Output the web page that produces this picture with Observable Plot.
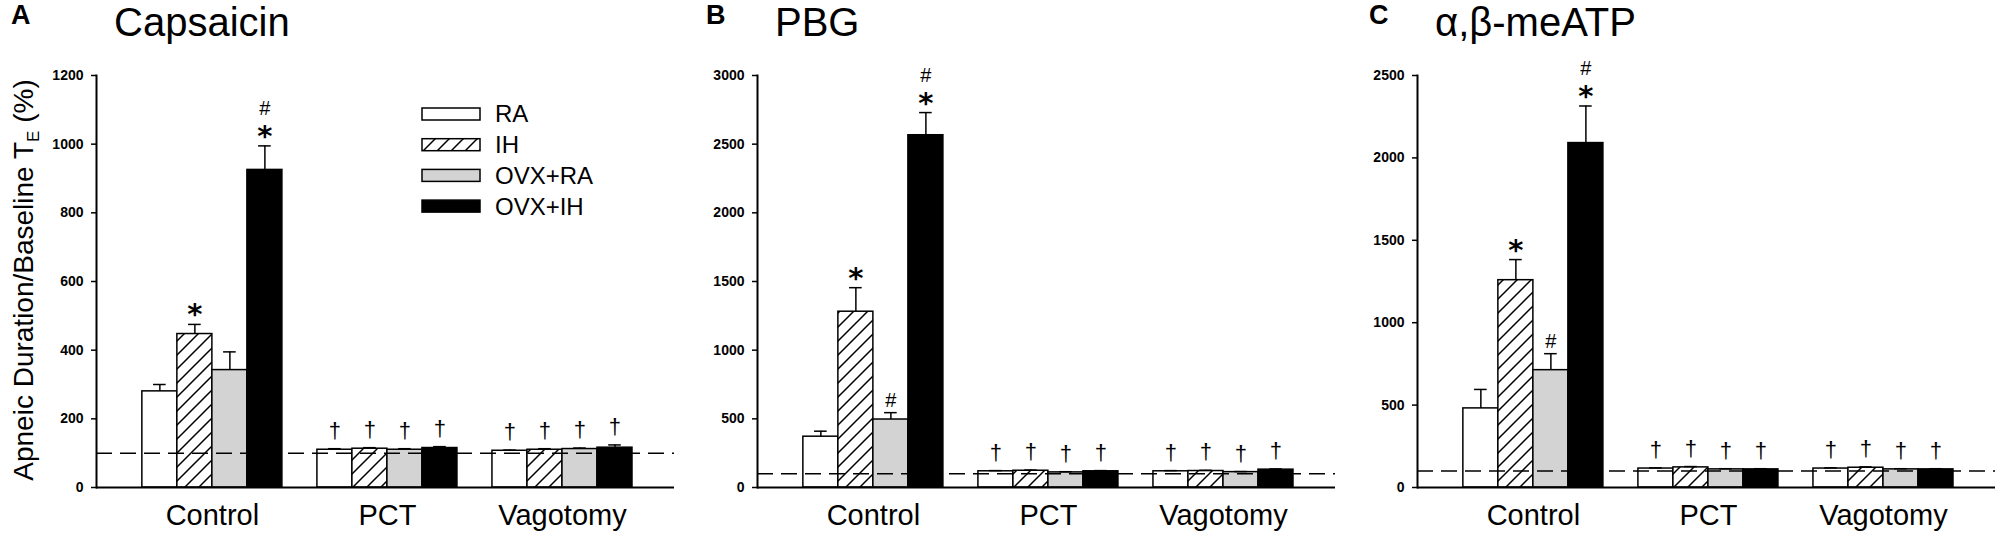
<!DOCTYPE html>
<html><head><meta charset="utf-8">
<script src="https://cdn.jsdelivr.net/npm/d3@7"></script>
<script src="https://cdn.jsdelivr.net/npm/@observablehq/plot@0.6"></script>
<style>
body{margin:0;background:#fff;width:2001px;height:538px;overflow:hidden;font-family:"Liberation Sans",Arial,sans-serif;}
#wrap{position:relative;width:2001px;height:538px;}
.panel{position:absolute;top:0;width:680px;height:538px;}
.letter{position:absolute;font-weight:bold;font-size:27px;line-height:1;top:2px;}
.title{position:absolute;font-size:40px;line-height:1;top:2px;white-space:nowrap;}
g[aria-label="y-axis tick label"] text{font-weight:bold;}
</style></head><body>
<svg width="0" height="0" style="position:absolute"><defs>
<pattern id="hatch" patternUnits="userSpaceOnUse" width="14" height="14">
<rect width="14" height="14" fill="white"/>
<path d="M-2,2 L2,-2 M0,14 L14,0 M12,16 L16,12" stroke="black" stroke-width="1.5"/>
</pattern></defs></svg>
<div id="wrap"></div>
<script>
const groups = ["Control", "PCT", "Vagotomy"];
const series = ["RA", "IH", "OVX+RA", "OVX+IH"];
const seriesFills = ["white", "url(#hatch)", "#d3d3d3", "black"];
const baselinePercent = 100;

const capsaicinMean = [280, 447, 342, 925, 110, 113, 110, 115, 107, 110, 112, 116];
const capsaicinSem  = [20, 28, 53, 70, 3, 3, 3, 4, 2, 3, 3, 8];
const capsaicinSig  = ["", "*", "", "*#", "†", "†", "†", "†", "†", "†", "†", "†"];
const capsaicinTicks = [0, 200, 400, 600, 800, 1000, 1200];

const pbgMean = [370, 1280, 495, 2565, 118, 122, 110, 118, 118, 120, 112, 130];
const pbgSem  = [40, 175, 50, 165, 5, 5, 5, 5, 5, 5, 4, 5];
const pbgSig  = ["", "*", "#", "*#", "†", "†", "†", "†", "†", "†", "†", "†"];
const pbgTicks = [0, 500, 1000, 1500, 2000, 2500, 3000];

const atpMean = [480, 1258, 712, 2090, 115, 122, 110, 110, 115, 120, 110, 110];
const atpSem  = [115, 125, 100, 225, 4, 5, 4, 4, 4, 5, 4, 4];
const atpSig  = ["", "*", "#", "*#", "†", "†", "†", "†", "†", "†", "†", "†"];
const atpTicks = [0, 500, 1000, 1500, 2000, 2500];

const panels = [
  {letter: "A", title: "Capsaicin", mean: capsaicinMean, sem: capsaicinSem, sig: capsaicinSig, ticks: capsaicinTicks, left: 0, letterX: 11, yLabel: true, legend: true},
  {letter: "B", title: "PBG", mean: pbgMean, sem: pbgSem, sig: pbgSig, ticks: pbgTicks, left: 661, letterX: 45, yLabel: false, legend: false},
  {letter: "C", title: "α,β-meATP", mean: atpMean, sem: atpSem, sig: atpSig, ticks: atpTicks, left: 1321, letterX: 48, yLabel: false, legend: false}
];

const wrap = d3.select("#wrap");
const FONT = "Liberation Sans, Arial, sans-serif";
const STAR_FONT = "DejaVu Sans, sans-serif";

for (const p of panels) {
  const rows = [];
  groups.forEach((g, gi) => series.forEach((s, si) => {
    const k = gi * series.length + si;
    const x1 = gi * 5 + si;
    rows.push({group: g, series: s, x1, x2: x1 + 1, xc: x1 + 0.5, mean: p.mean[k], sem: p.sem[k], top: p.mean[k] + p.sem[k], sig: p.sig[k]});
  }));
  const svg = Plot.plot({
    width: 680, height: 538,
    marginLeft: 96, marginRight: 6, marginTop: 75, marginBottom: 51,
    style: {fontFamily: FONT, background: "transparent", overflow: "visible", color: "black"},
    x: {domain: [-1.31, 15.2]},
    y: {domain: [0, p.ticks[p.ticks.length - 1]]},
    color: {type: "ordinal", domain: series, range: seriesFills},
    marks: [
      Plot.rectY(rows, {x1: "x1", x2: "x2", y1: 0, y2: "mean", fill: "series", stroke: "black", strokeWidth: 1.5}),
      Plot.ruleX(rows, {x: "xc", y1: "mean", y2: "top", stroke: "black", strokeWidth: 1.5}),
      Plot.ruleY(rows, {y: "top", x1: d => d.xc - 0.18, x2: d => d.xc + 0.18, stroke: "black", strokeWidth: 1.5}),
      Plot.ruleY([baselinePercent], {stroke: "black", strokeWidth: 1.5, strokeDasharray: "16,8"}),
      Plot.ruleY([0], {stroke: "black", strokeWidth: 2}),
      Plot.frame({anchor: "left", stroke: "black", strokeWidth: 2}),
      Plot.axisY({ticks: p.ticks, tickFormat: d3.format("d"), tickSize: 5, tickPadding: 8, fontSize: 14, fontWeight: "bold", strokeWidth: 1.5, label: null}),
      Plot.axisX({ticks: groups.map((g, i) => i * 5 + 2), tickFormat: d => groups[Math.round((d - 2) / 5)], tickSize: 0, tickPadding: 17, fontSize: 29, label: null}),
      Plot.text(rows.filter(d => d.sig === "*"), {x: "xc", y: "top", text: () => "*", dy: 0, fontSize: 29, fontWeight: "bold", fontFamily: STAR_FONT, lineAnchor: "bottom"}),
      Plot.text(rows.filter(d => d.sig === "*#"), {x: "xc", y: "top", text: () => "#\n*", fontSize: 20, lineAnchor: "bottom", ariaDescription: "sig-stack"}),
      Plot.text(rows.filter(d => d.sig === "#"), {x: "xc", y: "top", text: () => "#", dy: -6, fontSize: 20, lineAnchor: "bottom"}),
      Plot.text(rows.filter(d => d.sig === "†"), {x: "xc", y: "top", text: () => "†", dy: -11, fontSize: 22, lineAnchor: "bottom"})
    ]
  });
  const panel = wrap.append("div").attr("class", "panel").style("left", p.left + "px");
  panel.node().appendChild(svg);
  const s = d3.select(svg);
  // stacked "#" over "*": one text element, restyle its two lines
  s.selectAll('g[aria-description="sig-stack"] text').each(function () {
    const ts = this.querySelectorAll("tspan");
    if (ts.length === 2) {
      ts[0].setAttribute("y", -31);
      ts[1].removeAttribute("dy");
      ts[1].setAttribute("x", 0);
      ts[1].setAttribute("y", 0);
      ts[1].setAttribute("font-size", 29);
      ts[1].setAttribute("font-weight", "bold");
      ts[1].setAttribute("font-family", STAR_FONT);
    }
  });
  if (p.yLabel) {
    const t = s.append("text").attr("transform", "translate(33,280) rotate(-90)")
      .attr("text-anchor", "middle").attr("font-size", 28).attr("fill", "black").attr("font-family", FONT);
    t.append("tspan").text("Apneic Duration/Baseline T");
    t.append("tspan").attr("font-size", 17).attr("dy", 6).text("E");
    t.append("tspan").attr("dy", -6).text(" (%)");
  }
  if (p.legend) {
    const lg = s.append("g").attr("font-family", FONT);
    series.forEach((name, i) => {
      const y0 = 108 + i * 30.7;
      lg.append("rect").attr("x", 422).attr("y", y0).attr("width", 58).attr("height", 12)
        .attr("fill", seriesFills[i]).attr("stroke", "black").attr("stroke-width", 1.5);
      lg.append("text").attr("x", 495).attr("y", y0 + 6).attr("dy", "0.35em")
        .attr("text-anchor", "start").attr("font-size", 24).attr("fill", "black").text(name);
    });
  }
  panel.append("div").attr("class", "letter").style("left", p.letterX + "px").text(p.letter);
  panel.append("div").attr("class", "title").style("left", (96 + 18) + "px").text(p.title);
}
</script>
</body></html>
